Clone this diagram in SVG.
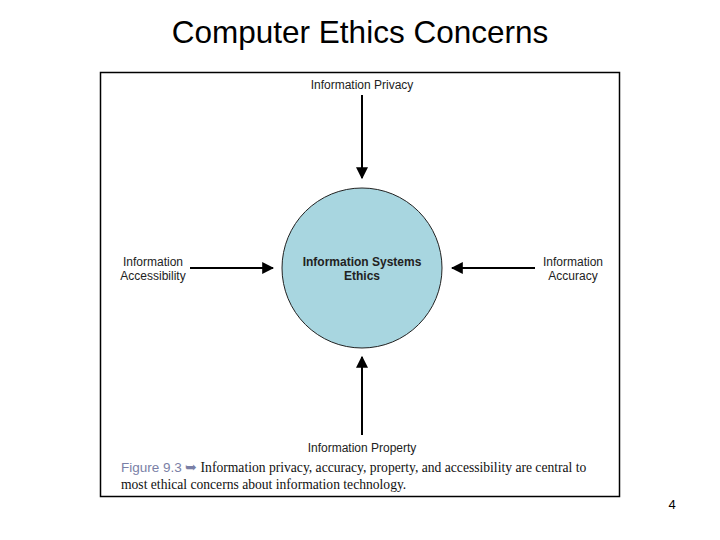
<svg xmlns="http://www.w3.org/2000/svg" width="720" height="540" viewBox="0 0 720 540">
<style>
.lbl{font-family:"Liberation Sans",Arial,sans-serif;font-size:12px;fill:#222}
.cap{font-family:"Liberation Serif","Times New Roman",serif;font-size:13.6px;fill:#111}
.con{stroke:#000;stroke-width:2;fill:none;marker-end:url(#ah)}
</style>
<defs>
<marker id="ah" viewBox="0 0 10 10" refX="9" refY="5" markerWidth="6" markerHeight="6" orient="auto" markerUnits="strokeWidth">
<path d="M0,0 L10,5 L0,10 z" fill="#000"/>
</marker>
</defs>
<rect width="720" height="540" fill="#fff"/>
<text x="360" y="43" text-anchor="middle" font-family="Liberation Sans,Arial,sans-serif" font-size="31.5" fill="#000">Computer Ethics Concerns</text>
<rect x="100.5" y="72.5" width="519" height="424" fill="#fff" stroke="#000" stroke-width="1.5"/>
<g id="connectors">
<line class="con" x1="362" y1="95" x2="362" y2="178"/>
<line class="con" x1="362" y1="435" x2="362" y2="357"/>
<line class="con" x1="190" y1="268" x2="273" y2="268"/>
<line class="con" x1="535" y1="268" x2="452" y2="268"/>
</g>
<g id="center">
<circle cx="362" cy="268" r="80" fill="#a8d6e0" stroke="#222" stroke-width="1"/>
<text class="lbl" x="362" y="266" text-anchor="middle" font-weight="bold">Information Systems</text>
<text class="lbl" x="362" y="280" text-anchor="middle" font-weight="bold">Ethics</text>
</g>
<g id="privacy"><text class="lbl" x="362" y="89" text-anchor="middle">Information Privacy</text></g>
<g id="accessibility">
<text class="lbl" x="153" y="266" text-anchor="middle">Information</text>
<text class="lbl" x="153" y="280" text-anchor="middle">Accessibility</text>
</g>
<g id="accuracy">
<text class="lbl" x="573" y="266" text-anchor="middle">Information</text>
<text class="lbl" x="573" y="280" text-anchor="middle">Accuracy</text>
</g>
<g id="property"><text class="lbl" x="362" y="452" text-anchor="middle">Information Property</text></g>
<g id="caption">
<text class="cap" x="121" y="472"><tspan font-family="Liberation Sans,Arial,sans-serif" fill="#7a7fa6" font-size="13.5">Figure 9.3</tspan><tspan fill="#7a7fa6"> ➥ </tspan>Information privacy, accuracy, property, and accessibility are central to</text>
<text class="cap" x="121" y="489">most ethical concerns about information technology.</text>
</g>
<text x="672" y="509" text-anchor="middle" font-family="Liberation Sans,Arial,sans-serif" font-size="13" fill="#000">4</text>
</svg>
